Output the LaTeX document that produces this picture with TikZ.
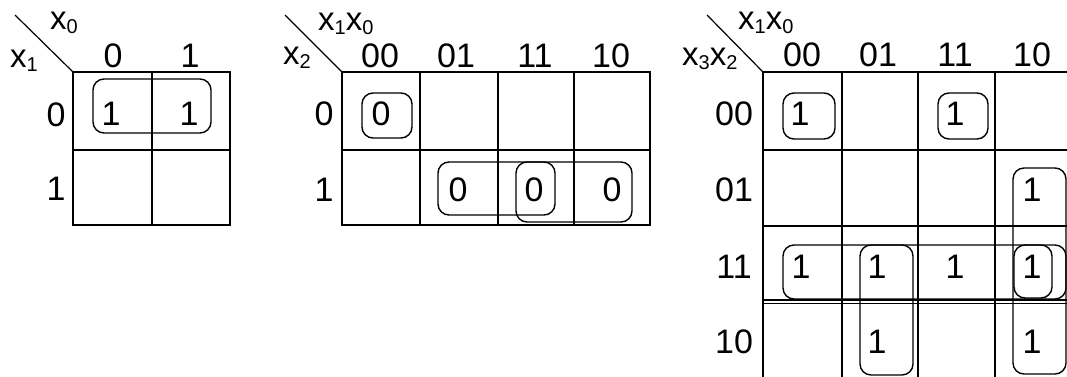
\documentclass[tikz,border=0pt]{standalone}
\usepackage{fontspec}
\setmainfont{Liberation Sans}
\newcommand\kvx[1]{x\raisebox{-0.14em}{\fontsize{20}{20}\selectfont #1}}
\begin{document}
\begin{tikzpicture}[x=1pt,y=-1pt,
  lbl/.style={font=\fontsize{34}{38}\selectfont, inner sep=0pt, anchor=base},
  vlbl/.style={font=\fontsize{33}{38}\selectfont, inner sep=0pt, anchor=base west},
  gline/.style={line width=1.6pt},
  vline/.style={line width=2.8pt},
  grp/.style={line width=1.4pt, rounded corners=11pt},
  diag/.style={line width=1.2pt}]
\useasboundingbox (0,0) rectangle (1067,376);
\clip (0,0) rectangle (1067,376);

% ---------------- Map 1 ----------------
\coordinate (a0) at (15,15);
\coordinate (a1) at (73,72);
\draw[diag] (a0) -- (a1);
\draw[gline] (73,72) rectangle (230,225);
\draw[gline] (73,150) -- (230,150);
\draw[vline] (152,72) -- (152,225);
\node[vlbl] (m1x0) at (50,29) {\kvx{0}};
\node[vlbl] (m1x1) at (10,67) {\kvx{1}};
\node[lbl] (m1c0) at (113,67) {0};
\node[lbl] (m1c1) at (190,67) {1};
\node[lbl] (m1r0) at (56,126) {0};
\node[lbl] (m1r1) at (56,200) {1};
\node[lbl] (m1e00) at (111,125) {1};
\node[lbl] (m1e01) at (189,125) {1};
\draw[grp] (93,79) rectangle (211,133);

% ---------------- Map 2 ----------------
\coordinate (b0) at (285,15);
\coordinate (b1) at (342,72);
\draw[diag] (b0) -- (b1);
\draw[gline] (342,72) rectangle (650,225);
\draw[gline] (342,150) -- (650,150);
\foreach \xx in {420,498,574} \draw[vline] (\xx,72) -- (\xx,225);
\node[vlbl] (m2x10) at (318,30) {\kvx{1}\kvx{0}};
\node[vlbl] (m2x2) at (283,64) {\kvx{2}};
\node[lbl] (m2c0) at (380,67) {00};
\node[lbl] (m2c1) at (456,67) {01};
\node[lbl] (m2c2) at (535,67) {11};
\node[lbl] (m2c3) at (611,67) {10};
\node[lbl] (m2r0) at (324,125) {0};
\node[lbl] (m2r1) at (324,201) {1};
\node[lbl] (m2e00) at (381,125) {0};
\node[lbl] (m2e11) at (458,201) {0};
\node[lbl] (m2e13) at (534,201) {0};
\node[lbl] (m2e12) at (612,201) {0};
\draw[grp] (362,93) rectangle (412,138);
\draw[grp] (438,162) rectangle (555,215);
\draw[grp] (516,162) rectangle (632,222);

% ---------------- Map 3 ----------------
\coordinate (c0) at (707,15);
\coordinate (c1) at (763,72);
\draw[diag] (c0) -- (c1);
\draw[gline] (763,380) -- (763,72) -- (1072,72);
\draw[gline] (763,150) -- (1072,150);
\draw[gline] (763,226) -- (1072,226);
\draw[gline] (763,300) -- (1072,300);
\draw[gline] (763,303.5) -- (1072,303.5);
\foreach \xx in {842,918,995} \draw[vline] (\xx,72) -- (\xx,380);
\node[vlbl] (m3x10) at (738,29) {\kvx{1}\kvx{0}};
\node[vlbl] (m3x32) at (682,65) {\kvx{3}\kvx{2}};
\node[lbl] (m3c0) at (802,66) {00};
\node[lbl] (m3c1) at (878,66) {01};
\node[lbl] (m3c2) at (955,66) {11};
\node[lbl] (m3c3) at (1032,66) {10};
\node[lbl] (m3r0) at (734,125) {00};
\node[lbl] (m3r1) at (734,201) {01};
\node[lbl] (m3r2) at (734,278) {11};
\node[lbl] (m3r3) at (734,353) {10};
\node[lbl] (m3e00) at (800,125) {1};
\node[lbl] (m3e03) at (955,125) {1};
\node[lbl] (m3e12) at (1032,201) {1};
\node[lbl] (m3e20) at (801,278) {1};
\node[lbl] (m3e21) at (877,278) {1};
\node[lbl] (m3e23) at (955,278) {1};
\node[lbl] (m3e22) at (1032,278) {1};
\node[lbl] (m3e31) at (877,353) {1};
\node[lbl] (m3e32) at (1032,353) {1};
\draw[grp] (783,93) rectangle (835,139);
\draw[grp] (938,93) rectangle (988,139);
\draw[grp] (1013,168) rectangle (1066,374);
\draw[grp] (783,245) rectangle (1066,299);
\draw[grp] (860,245) rectangle (913,375);
\draw[grp] (1014,245) rectangle (1052,298);
\end{tikzpicture}
\end{document}
